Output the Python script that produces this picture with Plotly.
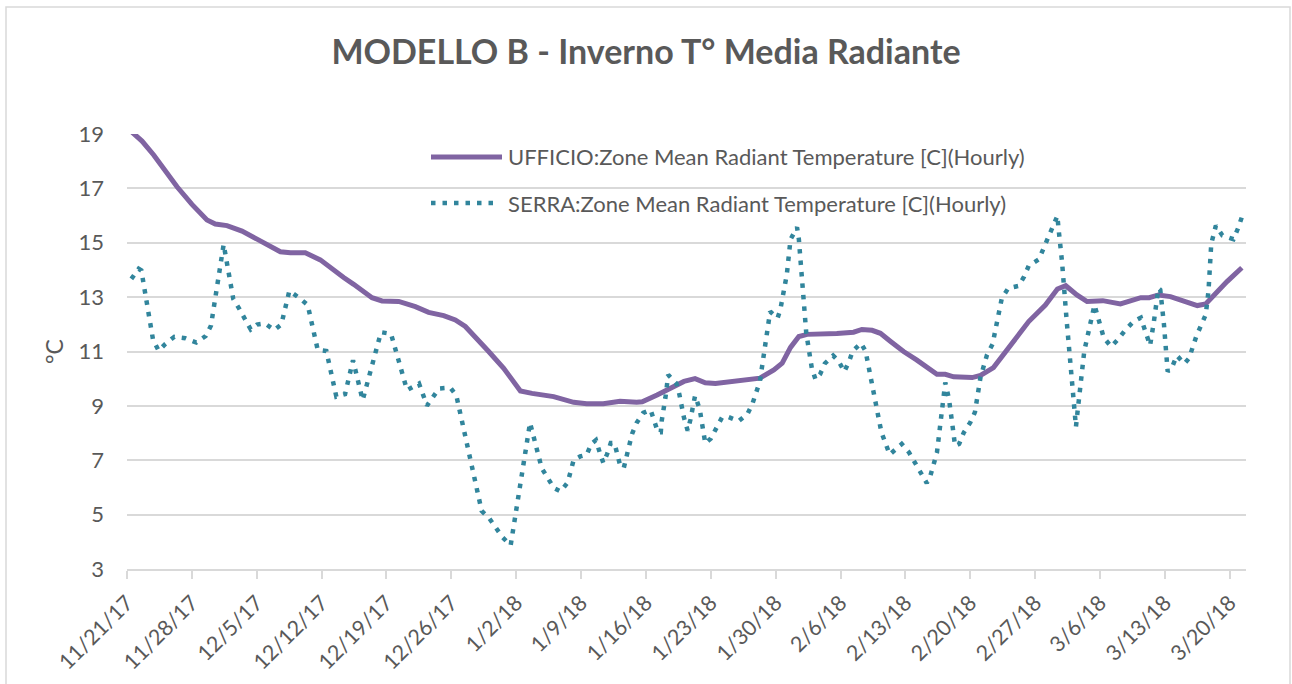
import pandas as pd
import plotly.graph_objects as go

# ---------------- data (day offset from 2017-11-21, temperature °C) ----------------
start_date = "2017-11-21"

ufficio_day = [0.47, 1.62, 2.88, 3.96, 5.40, 7.01, 8.63, 9.53, 10.79, 12.41, 14.03, 15.11,
               16.55, 17.63, 19.24, 20.86, 22.30, 23.38, 24.46, 26.44, 27.52, 29.32, 31.12,
               32.55, 34.17, 35.43, 36.51, 37.77, 39.03, 40.65, 41.73, 42.45, 43.71, 46.04,
               48.2, 49.6, 51.4, 53.2, 55.0, 55.6, 57.2, 58.3, 60.1, 61.3, 62.4, 63.5, 64.7,
               66.5, 68.3, 69.8, 70.7, 71.6, 72.5, 73.4, 74.8, 76.6, 78.4, 79.3, 80.4, 81.3,
               82.4, 83.8, 85.2, 86.5, 87.4, 88.3, 89.2, 91.2, 92.1, 93.5, 94.6, 95.5, 97.3,
               99.1, 100.4, 101.3, 102.5, 103.6, 105.3, 107.2, 109.4, 110.3, 111.3, 112.6,
               114.0, 115.5, 116.4, 117.3, 118.7, 120.3]
ufficio_temp = [19.09, 18.74, 18.23, 17.70, 17.06, 16.41, 15.84, 15.69, 15.63, 15.43, 15.13,
                14.92, 14.67, 14.63, 14.63, 14.37, 13.98, 13.72, 13.47, 12.98, 12.86, 12.84,
                12.65, 12.44, 12.32, 12.16, 11.92, 11.49, 11.00, 10.38, 9.89, 9.55, 9.46, 9.34,
                9.13, 9.08, 9.08, 9.17, 9.13, 9.15, 9.40, 9.59, 9.90, 10.00, 9.85, 9.82, 9.87,
                9.94, 10.02, 10.32, 10.57, 11.15, 11.55, 11.63, 11.63, 11.66, 11.71, 11.81,
                11.78, 11.67, 11.37, 11.00, 10.69, 10.38, 10.16, 10.16, 10.07, 10.04, 10.12,
                10.41, 10.88, 11.30, 12.10, 12.71, 13.30, 13.42, 13.08, 12.84, 12.87, 12.75,
                12.98, 12.98, 13.08, 13.02, 12.86, 12.69, 12.75, 13.08, 13.57, 14.08]

serra_day = [0.47, 1.26, 1.55, 2.81, 3.42, 4.14, 5.11, 6.29, 7.48, 8.49, 9.06, 10.43, 11.47,
             12.12, 13.35, 14.03, 14.89, 15.90, 16.65, 17.52, 18.56, 19.50, 20.58, 21.51,
             22.59, 23.53, 24.39, 25.43, 27.41, 28.49, 30.22, 31.51, 32.37, 33.67, 34.89,
             35.54, 38.27, 39.10, 40.54, 41.40, 43.49, 44.75, 46.08, 46.80, 47.55, 47.90,
             48.2, 48.9, 49.6, 50.1, 50.6, 51.0, 51.4, 51.8, 52.2, 52.6, 52.9, 53.2, 53.6,
             53.9, 54.2, 54.5, 55.0, 55.7, 56.5, 56.9, 57.3, 57.6, 57.7, 58.1, 58.4, 59.3,
             59.6, 60.1, 60.5, 60.8, 61.3, 61.8, 62.2, 62.4, 63.0, 63.6, 64.2, 64.9, 66.0,
             66.97, 67.5, 68.3, 68.8, 69.4, 70.2, 70.5, 71.2, 71.6, 72.3, 72.5, 72.9, 73.3,
             73.9, 74.3, 74.8, 75.3, 76.2, 76.8, 77.4, 77.9, 78.3, 79.2, 79.7, 81.4, 82.3,
             82.9, 83.6, 84.4, 85.0, 86.3, 86.7, 87.4, 88.3, 88.7, 89.2, 89.35, 89.8, 90.3,
             91.0, 91.5, 92.1, 92.8, 93.4, 94.4, 95.1, 96.2, 96.8, 97.3, 98.4, 99.4, 100.4,
             100.5, 100.9, 101.4, 102.0, 102.4, 102.6, 103.3, 104.4, 104.7, 105.4, 106.2,
             106.9, 107.7, 108.6, 109.4, 109.8, 110.4, 110.8, 111.3, 111.5, 111.9, 112.3,
             112.8, 113.3, 114.1, 114.6, 115.4, 116.4, 116.7, 117.0, 117.5, 118.2, 119.4,
             119.9, 120.3]
serra_temp = [13.67, 14.04, 13.98, 11.43, 11.03, 11.28, 11.54, 11.49, 11.33, 11.57, 11.95,
              14.94, 12.93, 12.57, 11.81, 11.99, 12.03, 11.79, 11.99, 13.23, 12.98, 12.71,
              11.06, 11.02, 9.34, 9.43, 10.68, 9.21, 11.71, 11.65, 9.58, 9.82, 9.01, 9.64,
              9.67, 9.38, 5.14, 4.86, 4.16, 3.87, 8.38, 6.71, 5.97, 5.85, 6.18, 6.59,
              7.01, 7.14, 7.20, 7.60, 7.74, 7.30, 6.90, 7.22, 7.63, 7.63, 7.22, 6.83, 6.71,
              7.13, 7.54, 7.97, 8.38, 8.74, 8.85, 8.45, 8.03, 8.03, 8.45, 9.30, 10.14, 9.82,
              9.43, 8.57, 8.09, 8.50, 9.37, 8.88, 8.02, 7.62, 7.80, 8.16, 8.57, 8.59, 8.44,
              8.71, 9.09, 9.91, 11.20, 12.47, 12.23, 12.54, 13.83, 15.12, 15.57, 15.13, 13.40,
              11.67, 10.38, 9.97, 10.17, 10.56, 10.85, 10.64, 10.26, 10.62, 11.01, 11.31,
              11.01, 8.04, 7.21, 7.39, 7.60, 7.28, 6.90, 6.16, 6.44, 7.28, 9.86, 9.25, 7.96,
              7.53, 7.60, 8.02, 8.39, 8.77, 10.05, 10.88, 11.27, 12.96, 13.33, 13.41, 13.75,
              14.15, 14.39, 15.18, 15.99, 15.59, 14.29, 12.13, 9.53, 8.23, 8.87, 11.02, 12.71,
              12.35, 11.51, 11.18, 11.43, 11.78, 12.10, 12.24, 11.81, 11.22, 12.07, 13.33,
              13.27, 11.98, 10.26, 10.45, 10.85, 10.55, 10.75, 11.57, 12.35, 13.21, 14.96,
              15.63, 15.27, 15.13, 15.54, 15.94]

series_names = ["UFFICIO:Zone Mean Radiant Temperature [C](Hourly)",
                "SERRA:Zone Mean Radiant Temperature [C](Hourly)"]
title_text = "MODELLO B - Inverno T° Media Radiante"
y_title = "°C"
y_ticks = [3, 5, 7, 9, 11, 13, 15, 17, 19]
x_axis_end_day = 120.75

# ---------------- styling ----------------
PURPLE = "#8064A2"
TEAL = "#31859C"
GRID = "#D9D9D9"
TEXT = "#595959"
FONT = "Lato"
DOT = "4.5px,7px"

W, H = 1292, 684
ML, MR, MT, MB = 127, 46, 134, 115
PW, PH = W - ML - MR, H - MT - MB

base = pd.Timestamp(start_date)
to_dates = lambda days: base + pd.to_timedelta(days, unit="D")

fig = go.Figure()
fig.add_trace(go.Scatter(x=to_dates(ufficio_day), y=ufficio_temp, mode="lines",
                         name=series_names[0], showlegend=False,
                         line=dict(color=PURPLE, width=5)))
fig.add_trace(go.Scatter(x=to_dates(serra_day), y=serra_temp, mode="lines",
                         name=series_names[1], showlegend=False,
                         line=dict(color=TEAL, width=4.5, dash=DOT)))

def px_to_paper_x(px):
    return (px - ML) / PW

def px_to_paper_y(py):
    return (H - MB - py) / PH

# manual legend (Excel style, inside plot area)
legend_rows = [(157, PURPLE, "solid", 5, 502), (203, TEAL, DOT, 4.5, 496)]
shapes = []
annotations = []
for (py, col, dash, wdt, xend), name in zip(legend_rows, series_names):
    shapes.append(dict(type="line", xref="paper", yref="paper",
                       x0=px_to_paper_x(431), x1=px_to_paper_x(xend),
                       y0=px_to_paper_y(py), y1=px_to_paper_y(py),
                       line=dict(color=col, width=wdt, dash=dash)))
    annotations.append(dict(xref="paper", yref="paper", x=px_to_paper_x(506),
                            y=px_to_paper_y(py), xanchor="left", yanchor="middle",
                            text=name, showarrow=False,
                            font=dict(family=FONT, size=22, color=TEXT)))

# chart-area border
shapes.append(dict(type="rect", xref="paper", yref="paper",
                   x0=px_to_paper_x(6), x1=px_to_paper_x(1290),
                   y0=px_to_paper_y(H + 10), y1=px_to_paper_y(7),
                   line=dict(color=GRID, width=1.5), fillcolor="rgba(0,0,0,0)", layer="below"))

fig.update_layout(
    width=W, height=H,
    margin=dict(l=ML, r=MR, t=MT, b=MB, pad=0, autoexpand=False),
    paper_bgcolor="white", plot_bgcolor="white",
    title=dict(text="<b>" + title_text + "</b>", x=0.5, xanchor="center",
               y=1 - 52 / H, yanchor="middle",
               font=dict(family=FONT, size=34, color=TEXT)),
    font=dict(family=FONT, color=TEXT),
    shapes=shapes,
    annotations=annotations,
    showlegend=False,
)

fig.update_xaxes(
    type="date", automargin=False,
    range=[base, to_dates(x_axis_end_day)],
    tick0=base, dtick=7 * 86400000,
    tickformat="%-m/%-d/%y", tickangle=-45,
    ticks="outside", ticklen=8, tickcolor=GRID, tickwidth=1.5,
    ticklabelstandoff=3,
    showline=True, linecolor=GRID, linewidth=1.5,
    showgrid=False, zeroline=False,
    tickfont=dict(family=FONT, size=21.5, color=TEXT),
)
fig.update_yaxes(
    range=[3, 19], tickvals=y_ticks, automargin=False,
    showgrid=True, gridcolor=GRID, gridwidth=1.5,
    zeroline=False, showline=False, ticks="",
    ticklabelstandoff=22,
    tickfont=dict(family=FONT, size=22, color=TEXT),
    title=dict(text=y_title, font=dict(family=FONT, size=23, color=TEXT), standoff=8),
)

fig.write_html("out.html", config={"displayModeBar": False},
               post_script="document.body.style.margin='0';")
